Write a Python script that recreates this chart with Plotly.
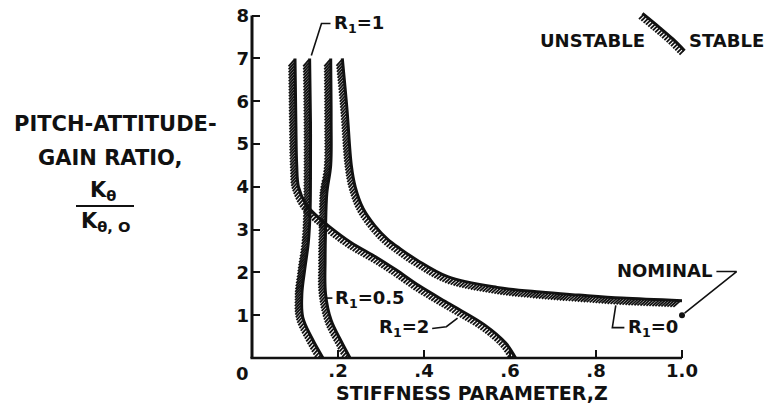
import numpy as np
import plotly.graph_objects as go

# ---------------- data ----------------
# stiffness parameter Z (x) and gain ratio K_theta/K_theta,0 (y) along each boundary
z_r2 = [0.100, 0.102, 0.104, 0.108, 0.125, 0.140, 0.180, 0.230, 0.290, 0.335, 0.390, 0.460, 0.540, 0.590, 0.613]
k_r2 = [7.00, 5.50, 4.50, 4.00, 3.60, 3.42, 3.07, 2.70, 2.35, 2.06, 1.68, 1.26, 0.78, 0.35, 0.00]

z_r1 = [0.134, 0.136, 0.136, 0.135, 0.131, 0.123, 0.116, 0.118, 0.140, 0.165]
k_r1 = [7.00, 5.50, 4.20, 3.40, 2.70, 2.10, 1.50, 0.95, 0.45, 0.00]

z_r05 = [0.183, 0.184, 0.183, 0.174, 0.171, 0.170, 0.171, 0.184, 0.208, 0.228]
k_r05 = [7.00, 5.50, 4.50, 3.85, 3.00, 2.30, 1.50, 0.88, 0.38, 0.00]

z_r0 = [0.210, 0.221, 0.231, 0.240, 0.258, 0.285, 0.315, 0.345, 0.385, 0.455, 0.570, 0.670, 0.760, 0.860, 1.000]
k_r0 = [7.00, 5.80, 4.50, 4.00, 3.50, 3.10, 2.78, 2.55, 2.28, 1.90, 1.65, 1.54, 1.47, 1.40, 1.34]

nominal_z = [1.0]
nominal_k = [1.0]

# legend symbol (hatched boundary) in the upper right
legend_z = [0.908, 0.948, 0.978, 1.006]
legend_k = [8.05, 7.72, 7.46, 7.18]

x_tick_vals = [0.2, 0.4, 0.6, 0.8, 1.0]
x_tick_text = [".2", ".4", ".6", ".8", "1.0"]
y_tick_vals = [1, 2, 3, 4, 5, 6, 7, 8]
y_tick_text = ["1", "2", "3", "4", "5", "6", "7", "8"]

# leader lines for labels
lead_r1_z = [0.1826, 0.1616, 0.138]
lead_r1_k = [7.815, 7.815, 7.07]
lead_r05_z = [0.187, 0.171]
lead_r05_k = [1.40, 1.40]
lead_r2_z = [0.419, 0.452, 0.478]
lead_r2_k = [0.69, 0.73, 0.93]
lead_r0_z = [0.866, 0.838, 0.846]
lead_r0_k = [0.71, 0.71, 1.23]
lead_nom_z = [1.080, 1.127, 1.006]
lead_nom_k = [2.02, 2.02, 1.05]

# ---------------- geometry ----------------
W, H = 771, 409
ML, MR, MT, MB = 252, 3, 0, 51
PW, PH = W - ML - MR, H - MT - MB
X_PER, Y_PER = 430.0, 42.8
XMAX, YMAX = PW / X_PER, PH / Y_PER

FONT = "DejaVu Sans"
BLACK = "#111111"


def to_px(x, y):
    return np.column_stack([ML + np.asarray(x) * X_PER, MT + PH - np.asarray(y) * Y_PER])


def to_data(p):
    return (p[:, 0] - ML) / X_PER, (MT + PH - p[:, 1]) / Y_PER


def plotly_spline(pts, s=1.0):
    pts = np.asarray(pts, float)
    n = len(pts)
    if n < 3:
        return pts
    tang = []
    for i in range(1, n - 1):
        d1 = pts[i - 1] - pts[i]
        d2 = pts[i + 1] - pts[i]
        d1a = (d1 @ d1) ** 0.25
        d2a = (d2 @ d2) ** 0.25
        num = (d2a * d2a * d1 - d1a * d1a * d2) * s
        den1 = 3 * d2a * (d1a + d2a)
        den2 = 3 * d1a * (d1a + d2a)
        tang.append((pts[i] + num / den1, pts[i] - num / den2))
    t = np.linspace(0, 1, 40)[:, None]
    out = []
    a, b, c = pts[0], tang[0][0], pts[1]
    out.append((1 - t) ** 2 * a + 2 * (1 - t) * t * b + t ** 2 * c)
    for i in range(2, n - 1):
        a, b, c, d = pts[i - 1], tang[i - 2][1], tang[i - 1][0], pts[i]
        out.append(((1 - t) ** 3 * a + 3 * (1 - t) ** 2 * t * b + 3 * (1 - t) * t ** 2 * c + t ** 3 * d)[1:])
    a, b, c = pts[n - 2], tang[n - 3][1], pts[n - 1]
    out.append(((1 - t) ** 2 * a + 2 * (1 - t) * t * b + t ** 2 * c)[1:])
    return np.vstack(out)


def hatch_segments(zs, ks, width=6.5, step=3.0):
    """Diagonal hatch ticks on the lower-left side of a boundary (pixel-space style)."""
    p = plotly_spline(to_px(zs, ks))
    seg = np.diff(p, axis=0)
    L = np.concatenate([[0], np.cumsum(np.hypot(seg[:, 0], seg[:, 1]))])
    s = np.arange(step / 2, L[-1], step)
    px = np.interp(s, L, p[:, 0])
    py = np.interp(s, L, p[:, 1])
    tx = np.gradient(px)
    ty = np.gradient(py)
    nrm = np.hypot(tx, ty)
    tx, ty = tx / nrm, ty / nrm
    nx, ny = -ty, tx
    dx, dy = -1 / np.sqrt(2), 1 / np.sqrt(2)
    dn = np.clip(dx * nx + dy * ny, 0.45, 1.0)
    length = width / dn
    x0, y0 = px + nx * 0.8, py + ny * 0.8
    x1, y1 = px + dx * length, py + dy * length
    xs, ys = [], []
    for a0, b0, a1, b1 in zip(x0, y0, x1, y1):
        dz, dk = to_data(np.array([[a0, b0], [a1, b1]]))
        xs += [dz[0], dz[1], None]
        ys += [dk[0], dk[1], None]
    return xs, ys


fig = go.Figure()

curves = [(z_r2, k_r2), (z_r1, k_r1), (z_r05, k_r05), (z_r0, k_r0), (legend_z, legend_k)]
for zs, ks in curves:
    hx, hy = hatch_segments(zs, ks)
    fig.add_trace(go.Scatter(x=hx, y=hy, mode="lines", line=dict(color=BLACK, width=1.8),
                             hoverinfo="skip", showlegend=False))
    fig.add_trace(go.Scatter(x=zs, y=ks, mode="lines", line=dict(color=BLACK, width=3, shape="spline"),
                             showlegend=False))

for lz, lk in [(lead_r1_z, lead_r1_k), (lead_r05_z, lead_r05_k), (lead_r2_z, lead_r2_k),
               (lead_r0_z, lead_r0_k), (lead_nom_z, lead_nom_k)]:
    fig.add_trace(go.Scatter(x=lz, y=lk, mode="lines", line=dict(color=BLACK, width=1.6),
                             hoverinfo="skip", showlegend=False))

fig.add_trace(go.Scatter(x=nominal_z, y=nominal_k, mode="markers", cliponaxis=False,
                         marker=dict(color=BLACK, size=6), showlegend=False))


def paper_x(px):
    return (px - ML) / PW


def paper_y(py):
    return (MT + PH - py) / PH


# axis lines (drawn in paper space so they are not clipped)
shapes = [
    dict(type="line", xref="paper", yref="paper", x0=0, x1=0, y0=0, y1=8 / YMAX,
         line=dict(color=BLACK, width=3)),
    dict(type="line", xref="paper", yref="paper", x0=-0.003, x1=1.0 / XMAX, y0=0, y1=0,
         line=dict(color=BLACK, width=2.6)),
    dict(type="line", xref="paper", yref="paper", x0=paper_x(76), x1=paper_x(134),
         y0=paper_y(206), y1=paper_y(206), line=dict(color=BLACK, width=2)),
]

ann = []


def add_text(text, x, y, xanchor="center", size=18, xref="x", yref="y"):
    ann.append(dict(text=text, x=x, y=y, xref=xref, yref=yref, xanchor=xanchor, yanchor="middle",
                    showarrow=False,
                    font=dict(family=FONT, size=size, color=BLACK, weight="bold")))


add_text("R<sub>1</sub>=1", 0.186, 7.80, xanchor="left")
add_text("R<sub>1</sub>=0.5", 0.188, 1.38, xanchor="left")
add_text("R<sub>1</sub>=2", 0.416, 0.70, xanchor="right")
add_text("R<sub>1</sub>=0", 0.869, 0.70, xanchor="left")
add_text("NOMINAL", 1.075, 2.04, xanchor="right")
add_text("UNSTABLE", 0.918, 7.42, xanchor="right")
add_text("STABLE", 1.012, 7.42, xanchor="left")
add_text("STIFFNESS PARAMETER,Z", paper_x(472), paper_y(393), xref="paper", yref="paper", size=19)
add_text("0", paper_x(242), paper_y(373), xref="paper", yref="paper")
add_text("PITCH-ATTITUDE-", paper_x(115), paper_y(124), xref="paper", yref="paper", size=21)
add_text("GAIN RATIO,", paper_x(110), paper_y(158), xref="paper", yref="paper", size=21)
add_text("K<sub>θ</sub>", paper_x(103), paper_y(191), xref="paper", yref="paper", size=21)
add_text("K<sub>θ, O</sub>", paper_x(106), paper_y(222), xref="paper", yref="paper", size=21)

tickfont = dict(family=FONT, size=18, color=BLACK, weight="bold")
fig.update_layout(
    width=W, height=H,
    margin=dict(l=ML, r=MR, t=MT, b=MB, pad=0),
    paper_bgcolor="white", plot_bgcolor="white",
    showlegend=False,
    shapes=shapes, annotations=ann,
    xaxis=dict(range=[0, XMAX], showgrid=False, zeroline=False, showline=False,
               ticks="inside", ticklen=8, tickwidth=2, tickcolor=BLACK,
               tickvals=x_tick_vals, ticktext=x_tick_text, tickfont=tickfont),
    yaxis=dict(range=[0, YMAX], showgrid=False, zeroline=False, showline=False,
               ticks="inside", ticklen=8, tickwidth=2, tickcolor=BLACK,
               tickvals=y_tick_vals, ticktext=y_tick_text, tickfont=tickfont,
               ticklabelstandoff=2),
)

fig.write_html("out.html")
